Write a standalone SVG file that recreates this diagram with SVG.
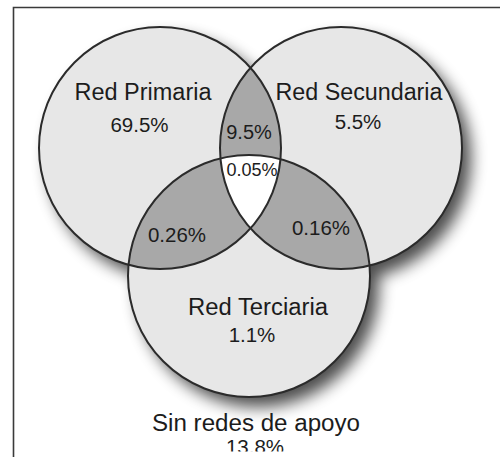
<svg xmlns="http://www.w3.org/2000/svg" width="500" height="457" viewBox="0 0 500 457">
  <style>
    .lbl { font-family: "Liberation Sans", Arial, sans-serif; font-size: 23px; fill: #1c1c1c; text-anchor: middle; }
    .num { font-family: "Liberation Sans", Arial, sans-serif; font-size: 20.5px; fill: #1c1c1c; text-anchor: middle; }
    .ring { fill: none; stroke: #2b2b2b; stroke-width: 2; }
    .single { fill: #e7e7e7; }
    .pair { fill: #a8a8a8; }
    .triple { fill: #ffffff; }
    .frame { stroke: #3a3a3a; stroke-width: 1.6; fill: none; }
  </style>
  <defs>
    <filter id="shadow" x="-20%" y="-20%" width="150%" height="150%">
      <feGaussianBlur in="SourceAlpha" stdDeviation="8"/>
      <feOffset dx="9" dy="10" result="b"/>
      <feComponentTransfer><feFuncA type="linear" slope="0.7"/></feComponentTransfer>
      <feMerge><feMergeNode/><feMergeNode in="SourceGraphic"/></feMerge>
    </filter>
    <clipPath id="cpA"><circle cx="160" cy="148" r="121"/></clipPath>
    <clipPath id="cpB"><circle cx="341" cy="148" r="121"/></clipPath>
    <clipPath id="cpC"><circle cx="249" cy="276" r="121"/></clipPath>
    <clipPath id="cpBottom"><rect x="0" y="0" width="500" height="451.5"/></clipPath>
  </defs>
  <rect width="500" height="457" fill="#ffffff"/>
  <g id="frame">
    <path class="frame" d="M13.5 457 V7.5 H500"/>
  </g>
  <g id="venn-base" filter="url(#shadow)">
    <circle class="single" cx="160" cy="148" r="121"/>
    <circle class="single" cx="341" cy="148" r="121"/>
    <circle class="single" cx="249" cy="276" r="121"/>
  </g>
  <g id="intersection-primaria-secundaria">
    <g clip-path="url(#cpA)"><circle class="pair" cx="341" cy="148" r="121"/></g>
  </g>
  <g id="intersection-primaria-terciaria">
    <g clip-path="url(#cpA)"><circle class="pair" cx="249" cy="276" r="121"/></g>
  </g>
  <g id="intersection-secundaria-terciaria">
    <g clip-path="url(#cpB)"><circle class="pair" cx="249" cy="276" r="121"/></g>
  </g>
  <g id="intersection-all">
    <g clip-path="url(#cpA)"><g clip-path="url(#cpB)"><circle class="triple" cx="249" cy="276" r="121"/></g></g>
  </g>
  <g id="red-primaria">
    <circle class="ring" cx="160" cy="148" r="121"/>
    <text class="lbl" x="143" y="100" textLength="137" lengthAdjust="spacingAndGlyphs">Red Primaria</text>
    <text class="num" x="139.5" y="132">69.5%</text>
  </g>
  <g id="red-secundaria">
    <circle class="ring" cx="341" cy="148" r="121"/>
    <text class="lbl" x="359" y="100" textLength="167" lengthAdjust="spacingAndGlyphs">Red Secundaria</text>
    <text class="num" x="358" y="128.5">5.5%</text>
  </g>
  <g id="red-terciaria">
    <circle class="ring" cx="249" cy="276" r="121"/>
    <text class="lbl" x="258" y="315" textLength="140" lengthAdjust="spacingAndGlyphs">Red Terciaria</text>
    <text class="num" x="252" y="341.5">1.1%</text>
  </g>
  <g id="labels-intersections">
    <text class="num" x="249" y="139" style="font-size:20px">9.5%</text>
    <text class="num" x="252" y="176" style="font-size:18px">0.05%</text>
    <text class="num" x="177" y="241.5">0.26%</text>
    <text class="num" x="321" y="235">0.16%</text>
  </g>
  <g id="sin-redes">
    <text class="lbl" x="256" y="431" textLength="208" lengthAdjust="spacingAndGlyphs">Sin redes de apoyo</text>
    <text class="num" x="255" y="453.5" clip-path="url(#cpBottom)">13.8%</text>
  </g>
  <g id="connectors"/>
</svg>
